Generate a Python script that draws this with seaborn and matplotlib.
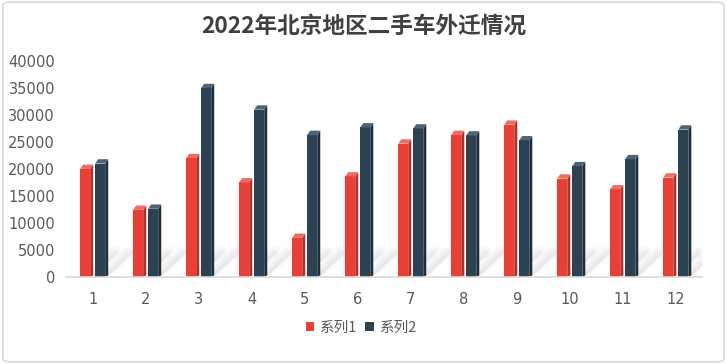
import matplotlib
matplotlib.use('Agg')
import matplotlib.pyplot as plt
import matplotlib.patches as mpatches
import pandas as pd
import seaborn as sns

# data
months = ['1', '2', '3', '4', '5', '6', '7', '8', '9', '10', '11', '12']
series1 = [20000, 12400, 22000, 17500, 7200, 18600, 24700, 26300, 28200, 18200, 16200, 18400]
series2 = [21000, 12600, 35000, 31000, 26300, 27700, 27500, 26200, 25300, 20500, 21800, 27300]
names = ['系列1', '系列2']
title = '2022年北京地区二手车外迁情况'

front = {'系列1': '#EA3F35', '系列2': '#2C4253'}
side = {'系列1': '#B52E28', '系列2': '#1E2F3C'}
top = {'系列1': '#F26A60', '系列2': '#4E6373'}

df = pd.DataFrame({
    'month': months * 2,
    'value': series1 + series2,
    'series': [names[0]] * 12 + [names[1]] * 12,
})

sns.set_theme(style='white')
plt.rcParams['font.family'] = ['Noto Sans CJK SC', 'DejaVu Sans']

fig = plt.figure(figsize=(7.27, 3.64), dpi=100)
ax = fig.add_axes([0.091, 0.240, 0.875, 0.592])

sns.barplot(data=df, x='month', y='value', hue='series', order=months,
            hue_order=names, palette=front, saturation=1, width=0.566, gap=0.33,
            legend=False, ax=ax, zorder=3)

bars = list(ax.patches)
dx = 0.057
dy = 800
for i, b in enumerate(bars):
    s = names[0] if i < 12 else names[1]
    x0 = b.get_x()
    x1 = x0 + b.get_width()
    h = b.get_height()
    b.set_linewidth(0)
    # side face
    ax.add_patch(mpatches.Polygon([(x1, 0), (x1 + dx, dy * 0.3), (x1 + dx, h + dy), (x1, h)],
                                  closed=True, facecolor=side[s], edgecolor='none', zorder=3))
    # top face
    ax.add_patch(mpatches.Polygon([(x0, h), (x1, h), (x1 + dx, h + dy), (x0 + dx, h + dy)],
                                  closed=True, facecolor=top[s], edgecolor='none', zorder=3))
    # soft shadow behind the bar
    sh = min(h, 5500)
    for k in range(8):
        e = k * 0.03
        ax.add_patch(mpatches.Polygon([(x0 + 0.05 + e, 0), (x1 + dx - e * 0.3, 0),
                                       (x1 + dx + 0.55 - e * 0.3, sh - k * 300),
                                       (x0 + 0.55 + e, sh - k * 300)],
                                      closed=True, facecolor='#000000', alpha=0.018,
                                      edgecolor='none', zorder=1))

ax.set_xlim(-0.5, 11.5)
ax.set_ylim(0, 40000)
ax.set_yticks(range(0, 40001, 5000))
ax.set_xlabel('')
ax.set_ylabel('')
for sp in ax.spines.values():
    sp.set_visible(False)
ax.axhline(0, color='#D9D9D9', linewidth=1.2, zorder=4, clip_on=False)
ax.tick_params(axis='both', length=0, labelsize=10.5, labelcolor='#595959')
ax.tick_params(axis='x', pad=11)
ax.tick_params(axis='y', pad=8)
for lab in ax.get_xticklabels() + ax.get_yticklabels():
    lab.set_family('DejaVu Sans')

fig.text(0.5, 0.928, title, ha='center', va='center', fontsize=16.3,
         fontweight='bold', color='#404040')

handles = [mpatches.Patch(facecolor=front[n], edgecolor='none', label=n) for n in names]
fig.legend(handles=handles, loc='center', bbox_to_anchor=(0.497, 0.10), ncol=2,
           frameon=False, fontsize=10.5, labelcolor='#595959', handlelength=0.6,
           handleheight=0.6, handletextpad=0.4, columnspacing=0.5)

border = mpatches.FancyBboxPatch((0.004, 0.006), 0.992, 0.988,
                                 boxstyle='round,pad=0,rounding_size=0.01',
                                 transform=fig.transFigure, facecolor='none',
                                 edgecolor='#D9D9D9', linewidth=1.2)
fig.patches.append(border)

fig.savefig('out.png', dpi=100)
